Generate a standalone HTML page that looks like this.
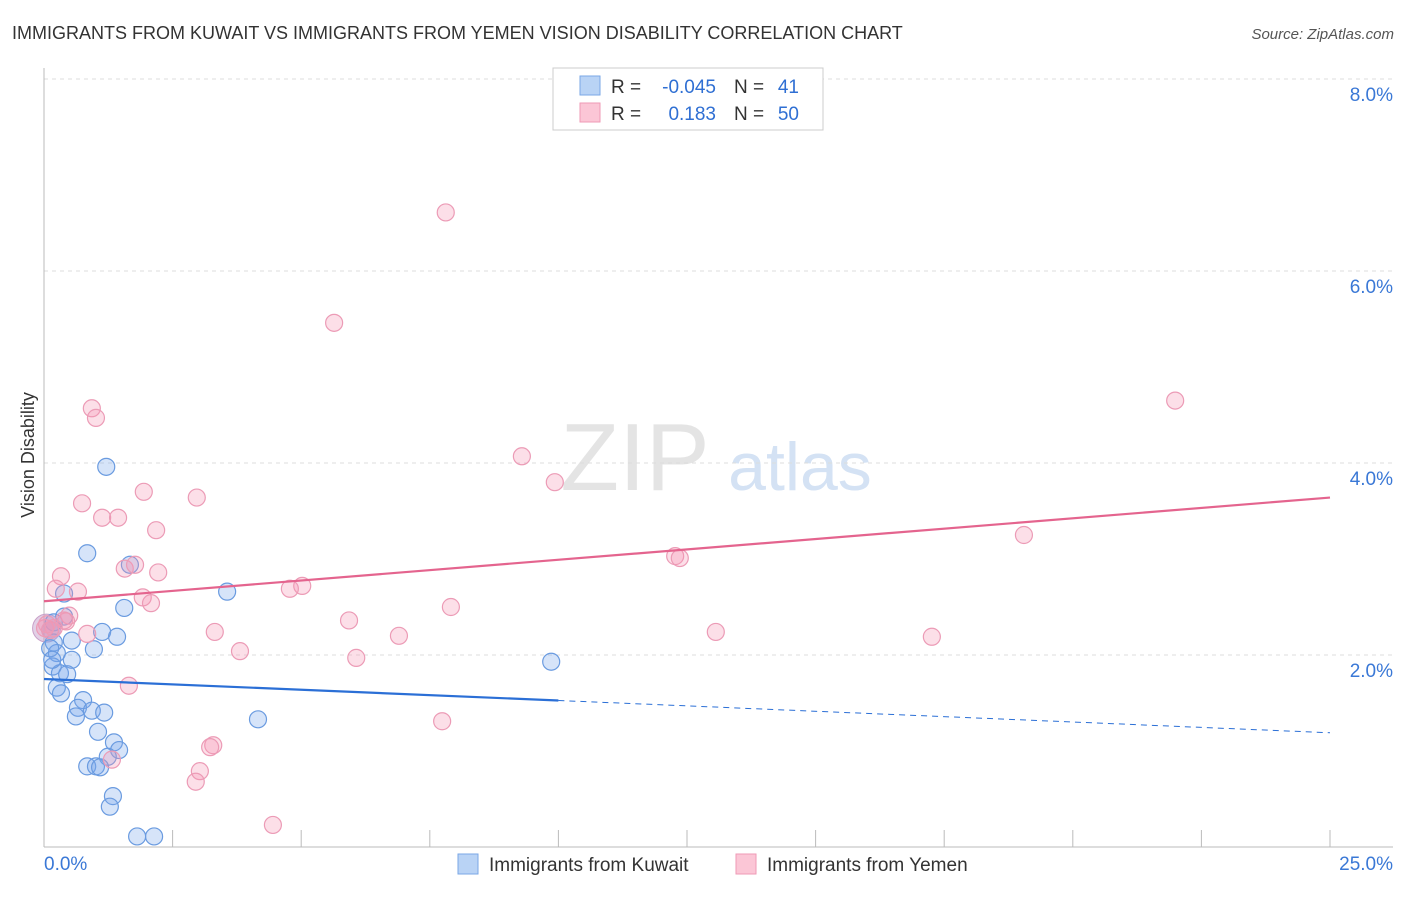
<!DOCTYPE html>
<html><head><meta charset="utf-8"><style>
body{margin:0;background:#fff;font-family:"Liberation Sans",sans-serif;}
svg text{font-family:"Liberation Sans",sans-serif;}
</style></head><body>
<svg id="chart" width="1406" height="892" xmlns="http://www.w3.org/2000/svg">
<text x="12" y="39" font-size="18" fill="#333">IMMIGRANTS FROM KUWAIT VS IMMIGRANTS FROM YEMEN VISION DISABILITY CORRELATION CHART</text>
<text x="1394" y="39" font-size="15" fill="#555" font-style="italic" text-anchor="end">Source: ZipAtlas.com</text>
<text transform="translate(34,455) rotate(-90)" font-size="18" fill="#333" text-anchor="middle">Vision Disability</text>
<g>
<text x="635" y="490" font-size="96" fill="#e4e4e4" font-family="Liberation Serif" text-anchor="middle">ZIP</text>
<text x="800" y="490" font-size="68" fill="#d4e2f4" text-anchor="middle">atlas</text>
</g>
<g id="grid"></g>
<g id="axes"></g>
<g id="marks"></g>
<g>
<rect x="553" y="68" width="270" height="62" fill="#fff" stroke="#ccc"/>
<rect x="580" y="76" width="20" height="19" fill="#b9d3f5" stroke="#7aa7e6"/>
<rect x="580" y="103" width="20" height="19" fill="#fbc6d6" stroke="#ef9ab6"/>
<text x="611" y="93" font-size="19" fill="#333">R =</text>
<text x="716" y="93" font-size="19" fill="#2f6fd3" text-anchor="end">-0.045</text>
<text x="734" y="93" font-size="19" fill="#333">N =</text>
<text x="799" y="93" font-size="19" fill="#2f6fd3" text-anchor="end">41</text>
<text x="611" y="120" font-size="19" fill="#333">R =</text>
<text x="716" y="120" font-size="19" fill="#2f6fd3" text-anchor="end">0.183</text>
<text x="734" y="120" font-size="19" fill="#333">N =</text>
<text x="799" y="120" font-size="19" fill="#2f6fd3" text-anchor="end">50</text>
</g>
<g>
<rect x="458" y="854" width="20" height="20" fill="#b9d3f5" stroke="#7aa7e6"/>
<text x="489" y="871" font-size="19" fill="#333">Immigrants from Kuwait</text>
<rect x="736" y="854" width="20" height="20" fill="#fbc6d6" stroke="#ef9ab6"/>
<text x="767" y="871" font-size="19" fill="#333">Immigrants from Yemen</text>
</g>
</svg>
<script>
const kuwaitX=[1.21,0.84,1.67,3.56,1.56,0.39,0.39,1.13,1.42,0.19,0.12,0.19,0.54,0.97,0.25,0.54,0.17,0.31,0.45,0.25,0.33,0.76,0.66,0.62,0.93,1.17,1.05,1.36,1.46,1.24,0.84,1.01,1.09,1.34,1.28,1.81,2.14,4.16,9.86,0.12,0.16];
const kuwaitY=[3.96,3.06,2.94,2.66,2.49,2.64,2.40,2.24,2.19,2.34,2.26,2.13,2.15,2.06,2.02,1.95,1.88,1.81,1.80,1.66,1.60,1.53,1.45,1.36,1.42,1.40,1.20,1.09,1.01,0.94,0.84,0.84,0.83,0.53,0.42,0.11,0.11,1.33,1.93,2.07,1.95];
const yemenX=[7.81,5.64,21.99,0.93,1.01,9.29,9.93,1.94,2.97,0.74,1.13,1.44,2.18,19.05,12.27,12.36,1.57,1.77,2.22,0.33,0.23,0.66,5.02,4.78,1.92,2.08,7.91,5.93,0.49,0.43,0.02,0.12,0.84,3.32,6.90,13.06,17.26,3.81,6.07,1.65,7.74,3.29,3.23,3.03,2.95,1.32,4.45,0.39,0.19,0.06];
const yemenY=[6.61,5.46,4.65,4.57,4.47,4.07,3.80,3.70,3.64,3.58,3.43,3.43,3.30,3.25,3.03,3.01,2.90,2.94,2.86,2.82,2.69,2.66,2.72,2.69,2.60,2.54,2.50,2.36,2.41,2.35,2.28,2.26,2.22,2.24,2.20,2.24,2.19,2.04,1.97,1.68,1.31,1.06,1.04,0.79,0.68,0.91,0.23,2.36,2.28,2.32];
const yTicks=[2,4,6,8];
const yTickLabels=["2.0%","4.0%","6.0%","8.0%"];
const xTickVals=[0,2.5,5,7.5,10,12.5,15,17.5,20,22.5,25];
const kuwaitTrend=[1.75,1.19];
const yemenTrend=[2.56,3.64];
const kuwaitSolidEnd=10;

const NS="http://www.w3.org/2000/svg";
const sx=v=>44+v/25*1286;
const sy=v=>847-v*96;
function mk(tag,attrs,parent){const e=document.createElementNS(NS,tag);for(const k in attrs)e.setAttribute(k,attrs[k]);parent.appendChild(e);return e;}
const gridG=document.getElementById('grid'),axesG=document.getElementById('axes'),marksG=document.getElementById('marks');
yTicks.forEach((t,i)=>{
  const l=mk('line',{x1:44,x2:1393,y1:sy(t),y2:sy(t),stroke:'#ddd','stroke-dasharray':'4,4'},gridG);
  
  
  const tx=mk('text',{x:1393,y:sy(t)+22,'font-size':19,fill:'#3a78d6','text-anchor':'end'},axesG);
  tx.textContent=yTickLabels[i];
  
  
});
const topGrid=mk('line',{x1:44,x2:1393,y1:79,y2:79,stroke:'#ddd','stroke-dasharray':'4,4'},gridG);


const ya=mk('line',{x1:44,x2:44,y1:68,y2:847,stroke:'#bbb'},axesG);


const xa=mk('line',{x1:44,x2:1393,y1:847,y2:847,stroke:'#bbb'},axesG);


xTickVals.forEach(t=>{
  const l=mk('line',{x1:sx(t),x2:sx(t),y1:830,y2:847,stroke:'#bbb'},axesG);
  
  
});
const xMinLbl=mk('text',{x:44,y:870,'font-size':19,fill:'#3a78d6'},axesG);xMinLbl.textContent="0.0%";


const xMaxLbl=mk('text',{x:1393,y:870,'font-size':19,fill:'#3a78d6','text-anchor':'end'},axesG);xMaxLbl.textContent="25.0%";


const bigDot=mk('circle',{cx:sx(0.05),cy:sy(2.28),r:14,fill:'rgba(190,150,200,0.45)',stroke:'#c9a0c8'},marksG);


kuwaitX.forEach((x,i)=>{
  const c=mk('circle',{cx:sx(x),cy:sy(kuwaitY[i]),r:8.5,fill:'rgba(120,165,235,0.3)',stroke:'#6a9be0','stroke-width':1.2},marksG);
  
  
});
yemenX.forEach((x,i)=>{
  const c=mk('circle',{cx:sx(x),cy:sy(yemenY[i]),r:8.5,fill:'rgba(245,150,180,0.3)',stroke:'#ec9bb6','stroke-width':1.2},marksG);
  
  
});
const kAt=v=>kuwaitTrend[0]+(kuwaitTrend[1]-kuwaitTrend[0])*v/25;
const kLine=mk('line',{x1:sx(0),y1:sy(kAt(0)),x2:sx(kuwaitSolidEnd),y2:sy(kAt(kuwaitSolidEnd)),stroke:'#2b6fd6','stroke-width':2.2},marksG);


const kExt=mk('line',{x1:sx(kuwaitSolidEnd),y1:sy(kAt(kuwaitSolidEnd)),x2:sx(25),y2:sy(kAt(25)),stroke:'#2b6fd6','stroke-width':1,'stroke-dasharray':'6,5'},marksG);


const yLine=mk('line',{x1:sx(0),y1:sy(yemenTrend[0]),x2:sx(25),y2:sy(yemenTrend[1]),stroke:'#e4648e','stroke-width':2.2},marksG);


</script>
</body></html>
